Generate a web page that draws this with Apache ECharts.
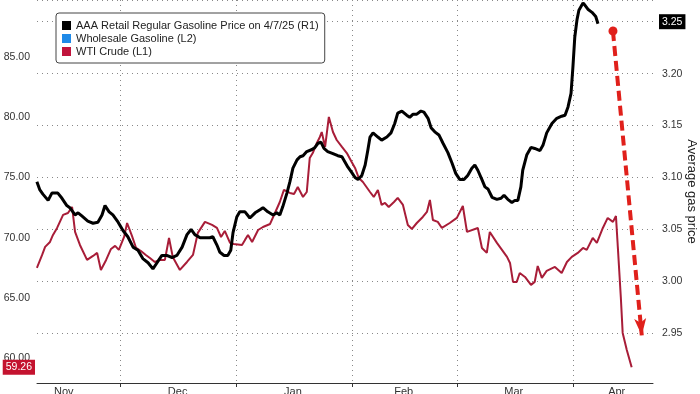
<!DOCTYPE html>
<html><head><meta charset="utf-8">
<script src="https://cdn.jsdelivr.net/npm/echarts@6/dist/echarts.min.js"></script>
<style>html,body{margin:0;padding:0;background:#fff}#c{width:700px;height:394px}</style>
</head><body><div id="c"></div>
<script>
// x values: days since 1 Nov 2024
const gasName = 'AAA Retail Regular Gasoline Price on 4/7/25 (R1)';
const wholesaleName = 'Wholesale Gasoline (L2)';
const wtiName = 'WTI Crude (L1)';

const gasSeries = [[7.8,3.096],[8.6,3.088],[9.4,3.084],[10.8,3.078],[11.8,3.085],[13.4,3.085],[14.5,3.080],[15.8,3.073],[16.6,3.071],[18.0,3.064],[18.8,3.066],[19.8,3.063],[21.4,3.058],[22.8,3.056],[24.1,3.057],[25.2,3.064],[26.0,3.073],[27.1,3.067],[28.1,3.064],[29.5,3.057],[30.8,3.049],[32.1,3.043],[33.5,3.033],[34.8,3.030],[36.1,3.022],[37.5,3.018],[38.8,3.012],[39.9,3.018],[41.2,3.025],[42.5,3.025],[43.9,3.023],[45.2,3.025],[46.6,3.033],[47.9,3.045],[49.0,3.050],[50.0,3.045],[51.4,3.042],[52.7,3.042],[54.0,3.042],[54.8,3.043],[55.9,3.035],[56.7,3.028],[57.8,3.025],[58.8,3.025],[59.6,3.030],[60.2,3.047],[61.2,3.062],[62.0,3.067],[63.4,3.067],[64.7,3.061],[66.1,3.066],[67.4,3.069],[68.2,3.071],[69.5,3.067],[70.9,3.064],[71.9,3.066],[72.7,3.064],[73.5,3.072],[74.6,3.085],[75.4,3.096],[76.2,3.109],[77.3,3.117],[78.1,3.120],[78.9,3.121],[79.9,3.125],[81.3,3.127],[82.1,3.129],[82.9,3.133],[83.7,3.134],[84.5,3.128],[85.5,3.125],[86.9,3.123],[88.2,3.121],[89.3,3.120],[90.1,3.115],[90.9,3.110],[91.9,3.105],[92.8,3.100],[93.6,3.098],[94.6,3.102],[95.5,3.112],[96.2,3.126],[96.8,3.139],[97.6,3.143],[98.9,3.139],[99.9,3.136],[101.3,3.139],[102.4,3.143],[103.4,3.152],[104.2,3.162],[105.3,3.164],[106.6,3.160],[107.4,3.158],[108.3,3.161],[109.3,3.161],[110.4,3.164],[111.2,3.163],[112.3,3.157],[113.1,3.148],[114.1,3.144],[115.2,3.141],[116.3,3.133],[117.6,3.124],[118.7,3.114],[119.7,3.104],[120.8,3.098],[121.9,3.098],[122.9,3.102],[124.0,3.109],[124.8,3.112],[125.6,3.107],[126.7,3.098],[127.5,3.091],[128.3,3.089],[129.4,3.081],[130.7,3.079],[131.8,3.080],[132.6,3.083],[133.6,3.079],[134.7,3.076],[135.5,3.078],[136.3,3.078],[137.1,3.091],[137.6,3.107],[138.7,3.122],[139.8,3.129],[140.8,3.128],[142.2,3.126],[143.0,3.131],[144.0,3.143],[145.4,3.152],[146.7,3.157],[148.0,3.159],[148.9,3.160],[149.7,3.168],[150.5,3.181],[151.0,3.206],[151.5,3.235],[152.1,3.252],[152.6,3.261],[153.4,3.266],[153.7,3.268],[154.2,3.266],[155.0,3.262],[156.1,3.259],[156.6,3.259],[157.1,3.255],[157.7,3.248]];

const wtiSeries = [[7.8,67.50],[9.2,68.57],[10.0,69.24],[11.3,69.65],[12.1,70.23],[13.2,70.81],[14.8,71.89],[16.1,72.05],[17.2,72.55],[18.0,70.48],[19.3,69.40],[21.2,68.16],[22.8,68.49],[23.9,68.74],[24.9,67.33],[26.3,68.16],[27.6,69.07],[28.7,69.32],[29.7,68.99],[31.1,70.06],[31.9,71.22],[33.2,70.15],[34.3,69.15],[35.6,68.90],[36.9,68.57],[38.0,68.32],[39.3,67.99],[40.7,68.16],[42.0,68.16],[43.1,69.98],[44.1,68.41],[46.0,67.33],[47.9,67.99],[49.5,68.57],[50.8,70.40],[52.7,71.31],[54.6,71.06],[55.9,70.81],[57.0,70.06],[58.0,70.56],[59.4,69.57],[60.4,69.48],[62.6,69.40],[63.4,69.82],[64.2,70.23],[65.3,69.65],[66.9,70.64],[68.2,70.89],[70.1,71.14],[71.4,72.05],[72.7,72.96],[73.8,73.96],[75.4,73.71],[76.5,73.63],[77.5,74.21],[78.9,73.38],[79.9,73.79],[80.7,76.61],[81.5,77.02],[82.6,77.85],[83.4,78.35],[83.9,78.76],[84.8,77.52],[85.8,80.01],[86.9,78.76],[87.9,78.10],[89.3,77.52],[90.6,77.02],[91.9,76.28],[92.8,75.78],[93.8,74.95],[94.9,74.62],[96.8,73.79],[97.8,73.38],[98.9,73.96],[99.9,72.72],[100.8,72.88],[101.8,72.55],[103.2,72.96],[104.2,73.30],[105.6,72.72],[106.9,71.06],[108.0,70.73],[109.3,71.22],[110.9,71.72],[112.0,72.14],[112.8,73.13],[113.6,71.47],[114.9,71.31],[116.0,70.81],[118.1,71.22],[120.0,71.64],[121.6,72.63],[122.7,70.48],[125.6,70.81],[126.7,69.15],[128.0,68.74],[128.8,70.48],[130.7,69.57],[133.4,68.41],[134.2,67.91],[135.0,66.34],[136.0,66.34],[136.8,67.08],[138.2,66.75],[139.8,66.09],[140.8,66.34],[141.6,67.66],[142.7,66.67],[144.0,67.25],[146.2,67.58],[148.0,67.08],[149.4,67.99],[150.7,68.41],[152.3,68.74],[153.7,69.15],[154.7,68.99],[156.3,69.98],[157.4,69.57],[159.0,70.81],[160.3,71.64],[161.7,71.31],[162.5,71.80],[163.0,69.24],[163.8,65.09],[164.3,62.11],[165.4,60.70],[166.7,59.26]];

const wholesaleSeries = [];

const monthStartDays = [30, 61, 92, 120, 151];
const monthLabelDays = [15.0, 45.4, 76.2, 105.8, 135.2, 162.7];
const monthNames = ['Jan','Feb','Mar','Apr','May','Jun','Jul','Aug','Sep','Oct','Nov','Dec'];

const xRange = [7.83, 172.4];
const leftRange = [57.96, 89.70];
const rightRange = [2.9022, 3.2709];

const lastGas = 3.25;
const lastWti = 59.26;
const arrowFrom = [161.7, 3.241];
const arrowTo = [169.4, 2.948];

const FONT = '"Liberation Sans", Arial, sans-serif';
const RED = '#a81d38';

function monthOf(d) {
  const dt = new Date(2024, 10, 1 + Math.round(d));
  return monthNames[dt.getMonth()];
}

const chart = echarts.init(document.getElementById('c'), null, {renderer: 'canvas'});
chart.setOption({
  animation: false,
  backgroundColor: '#fff',
  textStyle: {fontFamily: FONT},
  grid: {left: 37, right: 47, top: 0, bottom: 11, containLabel: false, outerBoundsMode: 'none'},
  legend: {
    orient: 'vertical', left: 56, top: 13,
    padding: [6, 6, 5, 6], itemGap: 0, itemWidth: 9, itemHeight: 9,
    icon: 'rect', borderColor: '#444', borderWidth: 1, borderRadius: 3,
    backgroundColor: '#fff',
    textStyle: {fontSize: 11, color: '#222', lineHeight: 13, fontFamily: FONT},
    data: [
      {name: gasName, itemStyle: {color: '#000'}},
      {name: wholesaleName, itemStyle: {color: '#1f8ae8'}},
      {name: wtiName, itemStyle: {color: '#c0143c'}}
    ]
  },
  xAxis: {
    type: 'value', min: xRange[0], max: xRange[1],
    axisLine: {show: true, lineStyle: {color: '#333', width: 1}},
    axisTick: {show: true, length: 4, customValues: monthStartDays, lineStyle: {color: '#333'}},
    axisLabel: {customValues: monthLabelDays, formatter: v => monthOf(v), margin: 3, fontSize: 11, color: '#333', fontFamily: FONT},
    splitLine: {show: true, lineStyle: {color: '#888', type: [1, 4], width: 1}}
  },
  yAxis: [
    {
      type: 'value', position: 'left', min: leftRange[0], max: leftRange[1], splitNumber: 6,
      axisLine: {show: false}, axisTick: {show: false}, splitLine: {show: false},
      axisLabel: {formatter: v => v.toFixed(2), showMinLabel: false, showMaxLabel: false, fontSize: 10.5, color: '#333', margin: 7, fontFamily: FONT},
      axisPointer: {
        show: true, value: lastWti, status: 'show', triggerTooltip: false,
        lineStyle: {color: 'rgba(0,0,0,0)', width: 0},
        label: {show: true, formatter: p => Number(p.value).toFixed(2), backgroundColor: '#c4132f', color: '#fff', padding: [2, 3, 2, 3], margin: 2, fontSize: 10.5, fontFamily: FONT, borderRadius: 0}
      }
    },
    {
      type: 'value', position: 'right', min: rightRange[0], max: rightRange[1], splitNumber: 7,
      name: 'Average gas price', nameLocation: 'middle', nameRotate: -90, nameGap: 32, nameMoveOverlap: false,
      nameTextStyle: {fontSize: 13, color: '#222', fontFamily: FONT},
      axisLine: {show: false}, axisTick: {show: false},
      splitLine: {show: true, lineStyle: {color: '#888', type: [1, 4], width: 1}},
      axisLabel: {formatter: v => v.toFixed(2), showMinLabel: false, showMaxLabel: false, fontSize: 10.5, color: '#333', margin: 9, fontFamily: FONT},
      axisPointer: {
        show: true, value: lastGas, status: 'show', triggerTooltip: false,
        lineStyle: {color: 'rgba(0,0,0,0)', width: 0},
        label: {show: true, formatter: p => Number(p.value).toFixed(2), backgroundColor: '#000', color: '#fff', padding: [2, 3, 2, 3], margin: 6, fontSize: 10.5, fontFamily: FONT, borderRadius: 0}
      }
    }
  ],
  series: [
    {
      name: wtiName, type: 'line', yAxisIndex: 0, data: wtiSeries, showSymbol: false,
      lineStyle: {color: RED, width: 2}, itemStyle: {color: '#c0143c'}, z: 2
    },
    {
      name: wholesaleName, type: 'line', yAxisIndex: 0, data: wholesaleSeries, showSymbol: false,
      lineStyle: {color: '#1f8ae8', width: 2}, itemStyle: {color: '#1f8ae8'}
    },
    {
      name: gasName, type: 'line', yAxisIndex: 1, data: gasSeries, showSymbol: false,
      lineStyle: {color: '#000', width: 3}, itemStyle: {color: '#000'}, z: 3,
      markLine: {
        silent: true, symbol: ['circle', 'arrow'], symbolSize: [9, 17],
        lineStyle: {color: '#e0201b', width: 4, type: [10, 5]},
        label: {show: false},
        data: [[{coord: arrowFrom}, {coord: arrowTo}]]
      }
    }
  ]
});
</script>
</body></html>
